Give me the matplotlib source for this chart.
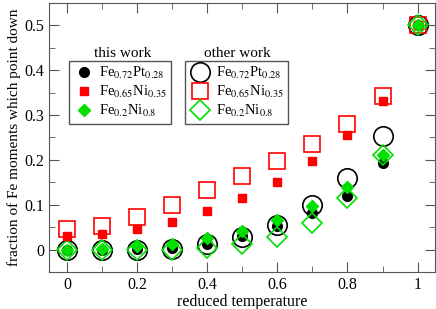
import numpy as np
import matplotlib
matplotlib.use('Agg')
import matplotlib.pyplot as plt
from matplotlib.ticker import MultipleLocator

plt.rcParams['font.family'] = 'Liberation Serif'
plt.rcParams['mathtext.fontset'] = 'stix'

T = [0, 0.1, 0.2, 0.3, 0.4, 0.5, 0.6, 0.7, 0.8, 0.9, 1.0]

# this work
fept_this = [0, 0, 0.001, 0.004, 0.012, 0.03, 0.052, 0.082, 0.12, 0.193, 0.5]
feni35_this = [0.031, 0.035, 0.046, 0.062, 0.085, 0.115, 0.15, 0.197, 0.255, 0.332, 0.5]
feni80_this = [0, 0.002, 0.007, 0.013, 0.026, 0.042, 0.065, 0.097, 0.14, 0.21, 0.5]

# other work
fept_other = [0, 0, 0, 0.002, 0.012, 0.028, 0.055, 0.1, 0.16, 0.253, 0.5]
feni35_other = [0.045, 0.052, 0.072, 0.1, 0.133, 0.163, 0.197, 0.235, 0.28, 0.343, 0.5]
feni80_other = [0, 0, 0, 0, 0.003, 0.012, 0.028, 0.06, 0.115, 0.21, 0.5]

labels = [r'Fe$_{0.72}$Pt$_{0.28}$', r'Fe$_{0.65}$Ni$_{0.35}$', r'Fe$_{0.2}$Ni$_{0.8}$']

fig = plt.figure(figsize=(4.36, 3.09), dpi=100)
ax = fig.add_axes([0.1135, 0.1197, 0.8845, 0.8713])

# other work (open)
h4, = ax.plot(T, fept_other, 'o', ms=14, mfc='none', mec='black', mew=1.2, ls='none', zorder=2)
h5, = ax.plot(T, feni35_other, 's', ms=11, mfc='none', mec='red', mew=1.2, ls='none', zorder=2)
# this work (filled)
h1, = ax.plot(T, fept_this, 'o', ms=7, color='black', ls='none', zorder=3)
h6, = ax.plot(T, feni80_other, 'D', ms=10, mfc='none', mec='#00e000', mew=1.2, ls='none', zorder=4)
h2, = ax.plot(T, feni35_this, 's', ms=6, color='red', ls='none', zorder=5)
h3, = ax.plot(T, feni80_this, 'D', ms=6, color='#00e000', ls='none', zorder=6)

ax.set_xlim(-0.05, 1.05)
ax.set_ylim(-0.05, 0.55)
ax.xaxis.set_minor_locator(MultipleLocator(0.1))
ax.yaxis.set_minor_locator(MultipleLocator(0.05))
ax.set_xticks([0, 0.2, 0.4, 0.6, 0.8, 1.0])
ax.set_xticklabels(['0', '0.2', '0.4', '0.6', '0.8', '1'])
ax.set_yticks([0, 0.1, 0.2, 0.3, 0.4, 0.5])
ax.set_yticklabels(['0', '0.1', '0.2', '0.3', '0.4', '0.5'])
ax.tick_params(which='both', direction='in', top=True, right=True, color='#555555', labelsize=11.5)
ax.tick_params(which='major', length=7)
ax.tick_params(which='minor', length=4)
for s in ax.spines.values():
    s.set_color('#555555')

ax.set_xlabel('reduced temperature', fontsize=11.5, labelpad=1)
ax.set_ylabel('fraction of Fe moments which point down', fontsize=11, labelpad=3)

leg_kw = dict(loc='upper left', borderaxespad=0, fancybox=False, edgecolor='#555555',
              fontsize=10.5, handletextpad=0.3, labelspacing=0.2, borderpad=0.3,
              handlelength=1.5, framealpha=1)
leg1 = ax.legend([h1, h2, h3], labels, bbox_to_anchor=(0.05, 0.785), **leg_kw)
leg1.get_frame().set_linewidth(1.0)
ax.add_artist(leg1)
leg2 = ax.legend([h4, h5, h6], labels, bbox_to_anchor=(0.3515, 0.785), **leg_kw)
leg2.get_frame().set_linewidth(1.0)

ax.text(0.19, 0.813, 'this work', transform=ax.transAxes, ha='center', va='center', fontsize=11)
ax.text(0.486, 0.813, 'other work', transform=ax.transAxes, ha='center', va='center', fontsize=11)

fig.savefig('out.png', dpi=100)
